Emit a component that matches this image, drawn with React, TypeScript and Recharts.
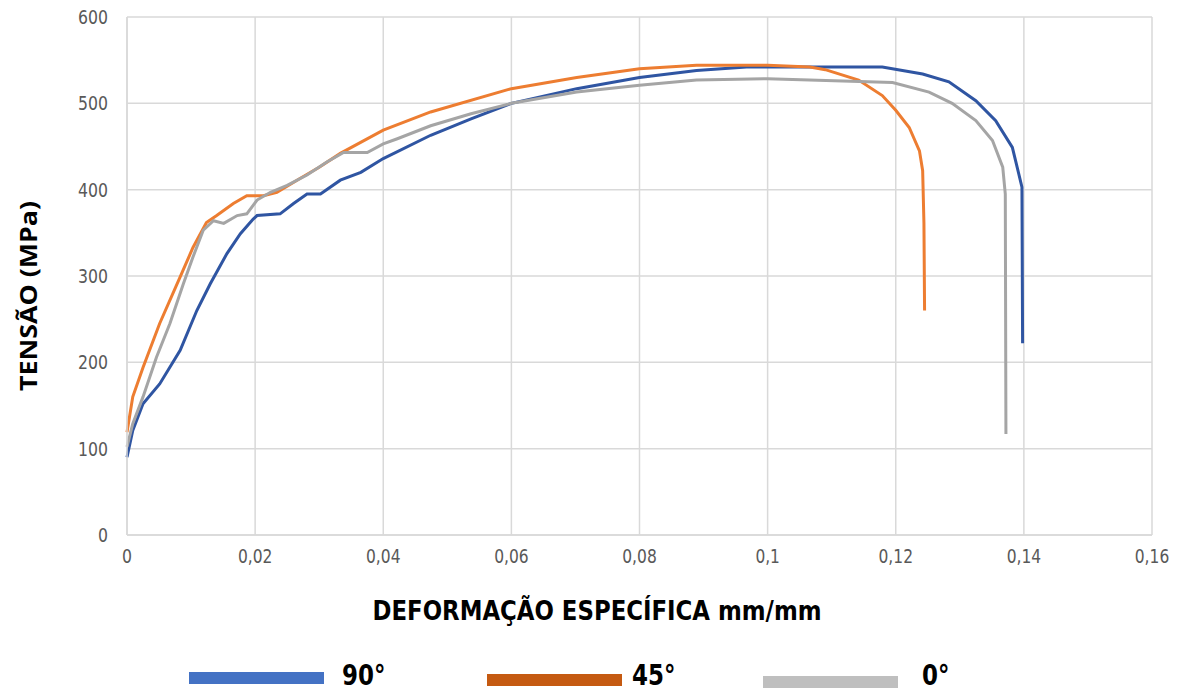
import { CartesianGrid, Label, Legend, Line, LineChart, XAxis, YAxis } from "recharts";

// strain (mm/mm) and stress (MPa)
const strain90 = [0, 0.0009, 0.0025, 0.0051, 0.0083, 0.0109, 0.013, 0.0156, 0.0177, 0.0197, 0.0203, 0.0239, 0.026, 0.0281, 0.0302, 0.0333, 0.0365, 0.04, 0.0474, 0.0537, 0.06, 0.0702, 0.08, 0.0889, 0.0967, 0.1066, 0.1179, 0.1242, 0.1283, 0.1325, 0.1356, 0.1382, 0.1397, 0.1398];
const stress90 = [90, 121, 152, 175, 214, 260, 291, 326, 349, 366, 370, 372, 384, 395, 395, 411, 420, 436, 463, 482, 500, 517, 530, 538, 542, 542, 542, 534, 525, 503, 480, 449, 403, 222];

const strain45 = [0, 0.0009, 0.0025, 0.0051, 0.0083, 0.0103, 0.0124, 0.014, 0.0166, 0.0187, 0.0213, 0.0234, 0.027, 0.03, 0.0333, 0.04, 0.0474, 0.06, 0.0702, 0.08, 0.0889, 0.1, 0.1066, 0.109, 0.1142, 0.1179, 0.12, 0.1221, 0.1237, 0.1242, 0.1244, 0.1245];
const stress45 = [119, 160, 194, 245, 299, 333, 362, 370, 384, 393, 393, 397, 413, 426, 442, 469, 490, 517, 530, 540, 544, 544, 542, 539, 527, 509, 492, 472, 445, 422, 361, 260];

const strain0 = [0, 0.0009, 0.0025, 0.0046, 0.0067, 0.0088, 0.0103, 0.0119, 0.0135, 0.0151, 0.0172, 0.0187, 0.0203, 0.0224, 0.025, 0.0281, 0.0312, 0.0338, 0.0375, 0.04, 0.0422, 0.0474, 0.0537, 0.06, 0.0702, 0.08, 0.0889, 0.1, 0.1195, 0.1252, 0.1288, 0.1325, 0.1351, 0.1367, 0.1371, 0.1372];
const stress0 = [102, 129, 160, 206, 245, 291, 322, 353, 364, 361, 370, 372, 388, 397, 405, 417, 432, 443, 443, 453, 459, 474, 488, 500, 513, 521, 527, 528.5, 524, 513, 500, 480, 457, 426, 395, 117];

const xTicks = [0, 0.02, 0.04, 0.06, 0.08, 0.1, 0.12, 0.14, 0.16];
const yTicks = [0, 100, 200, 300, 400, 500, 600];

const series = [
  { name: "90°", strain: strain90, stress: stress90, color: "#2F55A2", swatch: "#4472C4" },
  { name: "45°", strain: strain45, stress: stress45, color: "#ED7D31", swatch: "#C55A11" },
  { name: "0°", strain: strain0, stress: stress0, color: "#A5A5A5", swatch: "#BFBFBF" },
];

const toPoints = (xs: number[], ys: number[]) => xs.map((x, i) => ({ x, y: ys[i] }));

const FONT = "'DejaVu Sans', sans-serif";

// the original uses a condensed face; squeeze glyphs to the same width
const labelWidth = (s: string) => s.split("").reduce((w, c) => w + (c === "," ? 4.5 : 10), 0);

function XTick({ x, y, payload }: any) {
  const s = String(payload.value).replace(".", ",");
  return (
    <text x={x} y={y + 20} textAnchor="middle" textLength={labelWidth(s)} lengthAdjust="spacingAndGlyphs"
      style={{ fill: "#595959", fontSize: 19, fontFamily: FONT }}>
      {s}
    </text>
  );
}

function YTick({ x, y, payload }: any) {
  const s = String(payload.value);
  return (
    <text x={x} y={y + 7} textAnchor="end" textLength={labelWidth(s)} lengthAdjust="spacingAndGlyphs"
      style={{ fill: "#595959", fontSize: 19, fontFamily: FONT }}>
      {s}
    </text>
  );
}

// legend placement
const legendSlots = [
  { left: 189, top: 22, text: 342 },
  { left: 487, top: 24, text: 632 },
  { left: 763, top: 26, text: 922 },
];

function ChartLegend() {
  return (
    <div style={{ position: "relative", width: 1180, height: 46 }}>
      {series.map((s, i) => (
        <div key={s.name}>
          <div
            style={{
              position: "absolute",
              left: legendSlots[i].left,
              top: legendSlots[i].top,
              width: 135,
              height: 12,
              background: s.swatch,
            }}
          />
          <div
            style={{
              position: "absolute",
              left: legendSlots[i].text,
              top: 10,
              fontFamily: FONT,
              fontWeight: 700,
              fontSize: 28,
              lineHeight: "32px",
              color: "#000",
              transform: "scaleX(0.82)",
              transformOrigin: "left center",
              whiteSpace: "nowrap",
            }}
          >
            {s.name}
          </div>
        </div>
      ))}
    </div>
  );
}

export default function App() {
  return (
    <div style={{ position: "absolute", left: 0, top: 0, width: 1180, height: 696, background: "#fff", overflow: "hidden" }}>
      <LineChart width={1180} height={696} margin={{ top: 17, right: 28, bottom: 0, left: 0 }}>
        <CartesianGrid stroke="#D9D9D9" strokeWidth={1.5} />
        <XAxis
          dataKey="x"
          type="number"
          domain={[0, 0.16]}
          ticks={xTicks}
          height={115}
          axisLine={{ stroke: "#D9D9D9", strokeWidth: 1.5 }}
          tickLine={false}
          tick={<XTick />}
          interval={0}
        >
          <Label
            content={() => (
              <text
                x={597}
                y={620}
                textAnchor="middle"
                textLength={449}
                lengthAdjust="spacingAndGlyphs"
                style={{ fontFamily: FONT, fontWeight: 700, fontSize: 27, fill: "#000" }}
              >
                DEFORMAÇÃO ESPECÍFICA mm/mm
              </text>
            )}
          />
        </XAxis>
        <YAxis
          type="number"
          domain={[0, 600]}
          ticks={yTicks}
          width={127}
          axisLine={{ stroke: "#D9D9D9", strokeWidth: 1.5 }}
          tickLine={false}
          tickMargin={13}
          tick={<YTick />}
          interval={0}
        >
          <Label
            content={() => (
              <text
                x={37}
                y={296}
                textAnchor="middle"
                transform="rotate(-90, 37, 296)"
                textLength={190}
                lengthAdjust="spacingAndGlyphs"
                style={{ fontFamily: "'Open Sans', 'DejaVu Sans', sans-serif", fontWeight: 700, fontSize: 23, fill: "#000" }}
              >
                TENSÃO (MPa)
              </text>
            )}
          />
        </YAxis>
        <Legend verticalAlign="bottom" wrapperStyle={{ left: 0, top: 650, width: 1180, height: 46 }} content={() => <ChartLegend />} />
        {series.map((s) => (
          <Line
            key={s.name}
            name={s.name}
            data={toPoints(s.strain, s.stress)}
            dataKey="y"
            type="linear"
            stroke={s.color}
            strokeWidth={3}
            dot={false}
            activeDot={false}
            isAnimationActive={false}
          />
        ))}
      </LineChart>
    </div>
  );
}
